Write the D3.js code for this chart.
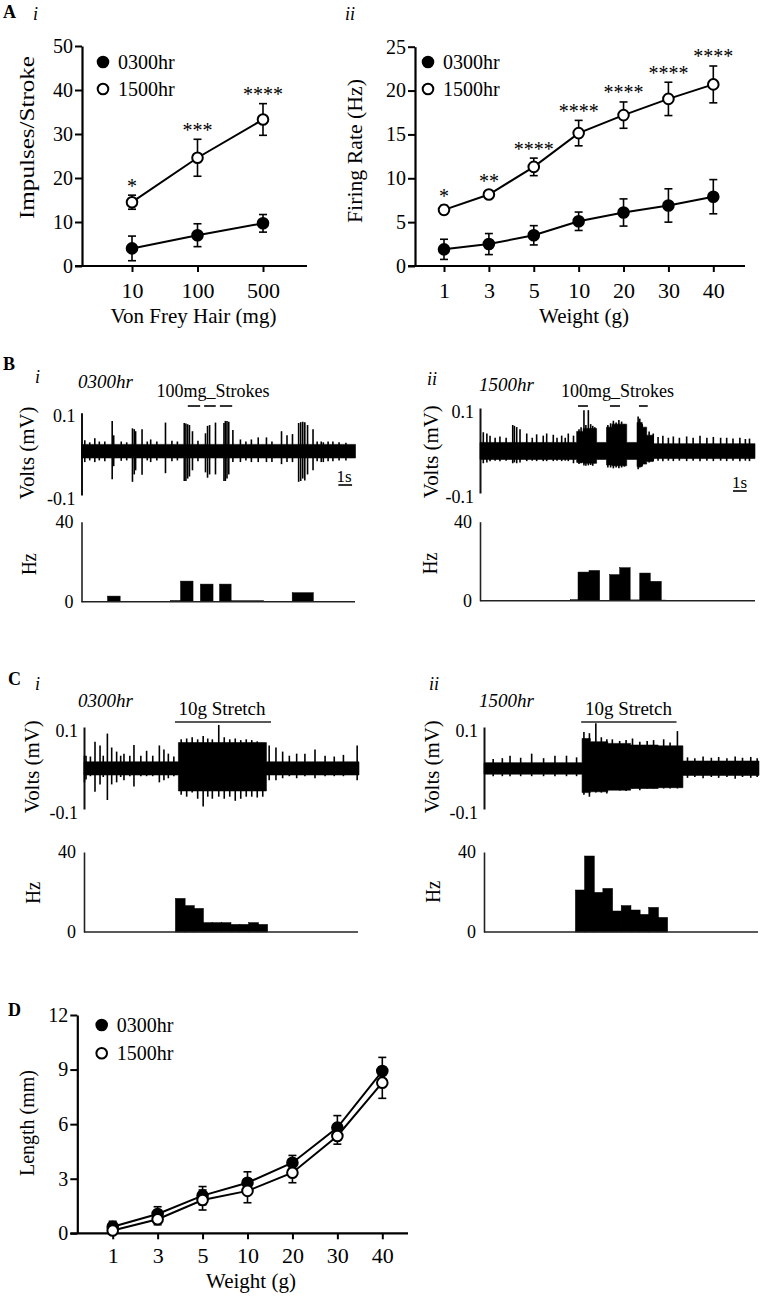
<!DOCTYPE html>
<html><head><meta charset="utf-8">
<script src="https://cdn.jsdelivr.net/npm/d3@7"></script>
<style>
body{margin:0;background:#fff}
svg{display:block}
text{font-family:"Liberation Serif","Times New Roman",serif;fill:#000}
</style>
</head><body>
<svg id="fig" width="760" height="1299"></svg>
<script>
// ---------------- DATA ----------------
// Panel A i : impulses per stroke vs von Frey hair
const vfCategories = ["10", "100", "500"];
const vf0300 = [4.0, 7.0, 9.7];
const vf0300Err = [2.8, 2.6, 2.0];
const vf1500 = [14.5, 24.6, 33.3];
const vf1500Err = [1.6, 4.2, 3.6];
const vfStars = ["*", "***", "****"];
const vfYTicks = [0, 10, 20, 30, 40, 50];

// Panel A ii : firing rate vs weight
const wtCategories = ["1", "3", "5", "10", "20", "30", "40"];
const fr0300 = [1.9, 2.5, 3.5, 5.1, 6.1, 6.9, 7.9];
const fr0300Err = [1.15, 1.2, 1.1, 1.05, 1.55, 1.9, 1.95];
const fr1500 = [6.4, 8.15, 11.3, 15.15, 17.2, 19.05, 20.7];
const fr1500Err = [0.5, 0.4, 1.0, 1.45, 1.5, 1.9, 2.1];
const frStars = ["*", "**", "****", "****", "****", "****", "****"];
const frYTicks = [0, 5, 10, 15, 20, 25];

// Panel D : length vs weight
const len0300 = [0.36, 1.06, 2.07, 2.78, 3.88, 5.81, 8.92];
const len0300Err = [0.3, 0.4, 0.5, 0.6, 0.4, 0.66, 0.75];
const len1500 = [0.15, 0.77, 1.83, 2.33, 3.33, 5.35, 8.28];
const len1500Err = [0.2, 0.3, 0.55, 0.65, 0.55, 0.45, 0.86];
const lenYTicks = [0, 3, 6, 9, 12];

const seriesNames = ["0300hr", "1500hr"];
const voltTicks = [-0.1, 0.1];
const hzTicks = [0, 40];

// Panel B i trace (time s, mV): envelope [t0,t1,upper,lower], spikes [t,up,down]
const bTraceIEnvelope = [[0, 20, 0.023, -0.010]];
const bTraceISpikes = [
  [0.24,0.033,-0.02],[0.6,0.028,-0.016],[0.97,0.038,-0.02],[1.3,0.03,-0.016],[1.7,0.03,-0.018],
  [2.24,0.080,-0.062],[2.35,0.045,-0.03],[2.9,0.03,-0.017],[3.3,0.028,-0.016],
  [3.72,0.062,-0.068],[3.85,0.06,-0.05],[3.95,0.055,-0.04],[4.42,0.060,-0.051],[4.8,0.03,-0.016],[5.05,0.035,-0.02],
  [5.5,0.03,-0.016],[6.13,0.076,-0.047],[6.6,0.032,-0.018],[7.0,0.03,-0.016],
  [7.50,0.075,-0.066],[7.62,0.074,-0.066],[7.75,0.072,-0.06],[7.88,0.07,-0.055],
  [8.1,0.055,-0.04],[8.5,0.032,-0.018],[9.05,0.05,-0.045],[9.2,0.068,-0.058],[9.35,0.07,-0.05],[9.78,0.076,-0.05],
  [10.4,0.075,-0.066],[10.5,0.080,-0.066],[10.62,0.08,-0.06],[10.75,0.078,-0.05],[11.05,0.058,-0.02],
  [11.6,0.035,-0.02],[12.0,0.03,-0.016],[12.4,0.035,-0.02],[12.9,0.04,-0.02],[13.5,0.04,-0.02],[13.9,0.03,-0.02],
  [14.6,0.055,-0.025],[15.0,0.045,-0.02],[15.4,0.048,-0.02],[15.85,0.075,-0.068],[16.0,0.077,-0.066],
  [16.15,0.078,-0.06],[16.3,0.077,-0.065],[16.5,0.07,-0.05],[16.9,0.06,-0.04],[17.2,0.03,-0.018],[17.5,0.03,-0.02],
  [17.65,0.028,-0.02],[18.0,0.03,-0.018],[18.35,0.03,-0.018],[18.8,0.028,-0.016],[19.3,0.027,-0.016]
];
const bStrokesI = [[7.76, 8.66], [8.95, 9.8], [10.1, 11.0]];
const bHistI = [[1.92,2.80,2.8],[6.52,7.25,0.6],[7.25,8.12,10.3],[8.70,9.58,8.8],[10.1,10.9,8.8],[10.9,13.25,0.5],[15.4,16.9,4.5]];

// Panel B ii trace
const bTraceIIEnvelope = [
  [0,7.03,0.019,-0.021],[7.03,7.5,0.045,-0.028],[7.5,8.48,0.052,-0.030],[8.48,9.2,0.019,-0.021],
  [9.2,9.6,0.055,-0.034],[9.6,10.67,0.062,-0.036],[10.67,11.42,0.019,-0.021],[11.42,11.8,0.066,-0.038],
  [11.8,12.12,0.055,-0.032],[12.12,12.6,0.036,-0.026],[12.6,20,0.016,-0.019]
];
const bTraceIISpikes = [
  [0.24,0.043,-0.03],[0.5,0.04,-0.028],[0.73,0.035,-0.025],[1.1,0.03,-0.024],[1.45,0.033,-0.025],[1.9,0.03,-0.024],
  [2.38,0.06,-0.03],[2.5,0.058,-0.028],[2.67,0.055,-0.03],[2.91,0.05,-0.028],[3.4,0.04,-0.025],[3.8,0.03,-0.024],
  [4.12,0.038,-0.025],[4.6,0.035,-0.025],[4.85,0.04,-0.025],[5.33,0.037,-0.025],[5.6,0.03,-0.024],[5.94,0.035,-0.025],
  [6.2,0.03,-0.024],[6.42,0.04,-0.025],[6.8,0.035,-0.03],
  [7.2,0.05,-0.032],[7.35,0.055,-0.03],[7.56,0.095,-0.035],[7.7,0.06,-0.036],[7.88,0.095,-0.035],[8.05,0.062,-0.034],
  [8.2,0.058,-0.036],[8.35,0.055,-0.03],
  [9.3,0.06,-0.04],[9.5,0.064,-0.04],[9.7,0.07,-0.042],[9.9,0.066,-0.04],[10.1,0.072,-0.042],[10.3,0.068,-0.04],[10.5,0.062,-0.038],
  [11.5,0.08,-0.044],[11.62,0.075,-0.04],[11.8,0.062,-0.036],[12.0,0.05,-0.03],[12.3,0.045,-0.028],
  [12.6,0.04,-0.025],[12.95,0.032,-0.024],[13.3,0.035,-0.025],[13.7,0.03,-0.024],
  [14.06,0.033,-0.025],[14.5,0.03,-0.024],[15.03,0.033,-0.025],[15.5,0.03,-0.024],[16,0.035,-0.025],[16.5,0.03,-0.024],
  [16.97,0.032,-0.025],[17.5,0.03,-0.024],[17.94,0.03,-0.025],[18.4,0.028,-0.024],[18.9,0.03,-0.025],[19.3,0.027,-0.024],
  [19.6,0.028,-0.025]
];
const bStrokesII = [[7.13, 7.85], [9.45, 10.18], [11.56, 12.2]];
const bHistII = [[6.62,7.15,0.5],[7.15,7.95,14.5],[7.95,8.68,15.3],[9.45,10.18,13.2],[10.18,10.9,16.7],[10.9,11.64,0.4],[11.64,12.36,14],[12.36,13.16,9.8],[13.16,13.5,0.3]];

// Panel C i trace
const cTraceIEnvelope = [[0,10.3,0.015,-0.017],[10.3,19.9,0.062,-0.056],[19.9,30,0.015,-0.017]];
const cTraceISpikes = [
  [0.05,0.03,-0.035],[0.22,0.03,-0.028],[0.7,0.028,-0.02],[1.2,0.064,-0.058],[1.75,0.055,-0.04],[2.1,0.03,-0.022],
  [2.55,0.084,-0.078],[3.02,0.05,-0.04],[3.56,0.04,-0.035],[4.0,0.03,-0.022],[4.36,0.035,-0.03],[5.0,0.03,-0.02],
  [5.45,0.056,-0.045],[6.2,0.03,-0.02],[6.83,0.042,-0.02],[7.5,0.03,-0.02],[8.22,0.055,-0.035],
  [8.72,0.045,-0.03],[9.2,0.035,-0.025],[9.8,0.028,-0.02],
  [10.6,0.07,-0.065],[11.2,0.072,-0.07],[11.8,0.075,-0.06],[12.4,0.07,-0.075],[13.0,0.078,-0.094],
  [13.5,0.072,-0.07],[14.0,0.07,-0.075],[14.7,0.105,-0.07],[15.3,0.075,-0.075],[15.9,0.07,-0.07],
  [16.5,0.072,-0.08],[17.1,0.068,-0.075],[17.7,0.07,-0.07],[18.3,0.068,-0.07],[18.9,0.065,-0.072],
  [19.5,0.06,-0.07],
  [20.2,0.055,-0.03],[20.94,0.05,-0.03],[21.67,0.04,-0.025],[22.4,0.03,-0.02],[23.2,0.035,-0.025],[24.1,0.035,-0.02],
  [25.2,0.045,-0.025],[26.3,0.03,-0.02],[27.3,0.028,-0.02],[28.3,0.032,-0.02],[29.8,0.055,-0.03]
];
const cStretchI = [9.92, 20.4];
const cHistIStart = 10;
const cHistI = [16.8, 13.2, 11.8, 4.7, 4.7, 4.7, 3.8, 3.8, 4.7, 3.8];

// Panel C ii trace
const cTraceIIEnvelope = [
  [0,10.7,0.013,-0.015],[10.7,11.6,0.072,-0.060],[11.6,13.5,0.064,-0.058],[13.5,16,0.06,-0.054],
  [16,19,0.056,-0.05],[19,21.7,0.054,-0.048],[21.7,30,0.017,-0.018]
];
const cTraceIISpikes = [
  [1.0,0.022,-0.02],[2.0,0.024,-0.02],[2.84,0.03,-0.02],[4.0,0.025,-0.02],[5.2,0.035,-0.02],[6.5,0.024,-0.02],
  [7.74,0.03,-0.02],[9.0,0.03,-0.02],[10.1,0.026,-0.02],
  [10.9,0.088,-0.065],[11.5,0.085,-0.07],[12.2,0.109,-0.06],[12.8,0.075,-0.06],[13.4,0.07,-0.062],[14,0.07,-0.05],
  [14.8,0.066,-0.055],[15.5,0.068,-0.056],[16.2,0.072,-0.05],[17.0,0.064,-0.054],[17.8,0.066,-0.05],
  [18.5,0.068,-0.05],[19.6,0.07,-0.05],[20.3,0.062,-0.05],[21.1,0.09,-0.05],
  [22.2,0.026,-0.024],[23.0,0.024,-0.022],[23.9,0.028,-0.025],[24.8,0.025,-0.022],[25.6,0.027,-0.024],
  [26.5,0.024,-0.022],[27.4,0.028,-0.026],[28.2,0.025,-0.022],[29.1,0.027,-0.024],[29.8,0.024,-0.022]
];
const cStretchII = [10.6, 21.0];
const cHistIIStart = 10;
const cHistII = [21, 38, 19.8, 21.8, 10.5, 13.2, 11, 8.8, 12.3, 7.3];

// ---------------- DRAWING ----------------
const svg = d3.select("#fig");

function txt(x, y, s, size, opts = {}) {
  const t = svg.append("text").attr("x", x).attr("y", y).text(s)
    .style("font-size", size + "px");
  if (opts.anchor) t.attr("text-anchor", opts.anchor);
  if (opts.bold) t.style("font-weight", "bold");
  if (opts.italic) t.style("font-style", "italic");
  return t;
}
function vtxt(bx, cy, s, size, len) {
  const t = svg.append("text")
    .attr("transform", `translate(${bx},${cy}) rotate(-90)`)
    .attr("text-anchor", "middle").style("font-size", size + "px").text(s);
  if (len) t.attr("textLength", len).attr("lengthAdjust", "spacingAndGlyphs");
  return t;
}

function linePanel(o) {
  const g = svg.append("g");
  const x = d3.scalePoint().domain(o.cats).range([o.px0, o.px1]);
  const y = d3.scaleLinear().domain([0, o.yMax]).range([o.yBot, o.yTop]);
  const ya = g.append("g").attr("transform", `translate(${o.axX},0)`)
    .call(d3.axisLeft(y).tickValues(o.yTicks).tickSize(7).tickPadding(2).tickSizeOuter(0));
  ya.select(".domain").attr("stroke-width", 2.2);
  ya.selectAll(".tick line").attr("stroke-width", 2);
  ya.selectAll(".tick text").style("font-size", "20px");
  g.append("line").attr("x1", o.axX - 7).attr("x2", o.axEnd)
    .attr("y1", o.yBot).attr("y2", o.yBot).attr("stroke", "#000").attr("stroke-width", 2.2);
  const xa = g.append("g").attr("transform", `translate(0,${o.yBot})`)
    .call(d3.axisBottom(x).tickSize(6).tickPadding(o.xPad));
  xa.select(".domain").remove();
  xa.selectAll(".tick line").attr("stroke-width", 2);
  xa.selectAll(".tick text").style("font-size", "22px");

  const line = d3.line().x((d, i) => x(o.cats[i])).y(d => y(d));
  const series = [
    { v: o.s1, e: o.e1, filled: true },
    { v: o.s2, e: o.e2, filled: false }
  ];
  series.forEach(s => {
    g.append("path").datum(s.v).attr("d", line).attr("fill", "none")
      .attr("stroke", "#000").attr("stroke-width", 2);
  });
  series.forEach(s => {
    s.v.forEach((v, i) => {
      const cx = x(o.cats[i]);
      const y1 = y(v + s.e[i]), y0 = y(v - s.e[i]);
      g.append("line").attr("x1", cx).attr("x2", cx).attr("y1", y1).attr("y2", y0)
        .attr("stroke", "#000").attr("stroke-width", 1.6);
      [y1, y0].forEach(yy => g.append("line").attr("x1", cx - 4).attr("x2", cx + 4)
        .attr("y1", yy).attr("y2", yy).attr("stroke", "#000").attr("stroke-width", 1.6));
    });
  });
  series.forEach(s => {
    g.selectAll(null).data(s.v).enter().append("circle")
      .attr("cx", (d, i) => x(o.cats[i])).attr("cy", d => y(d)).attr("r", 5.3)
      .attr("fill", s.filled ? "#000" : "#fff").attr("stroke", "#000").attr("stroke-width", 2);
  });
  if (o.stars) {
    o.stars.forEach((st, i) => {
      txt(x(o.cats[i]), y(o.s2[i] + o.e2[i]) - 2.5, st, 20, { anchor: "middle" });
    });
  }
  o.legendY.forEach((ly, i) => {
    g.append("circle").attr("cx", o.legX).attr("cy", ly).attr("r", 5.3)
      .attr("fill", i === 0 ? "#000" : "#fff").attr("stroke", "#000").attr("stroke-width", 2);
    txt(o.legX + 15, ly + 6.5, seriesNames[i], 20);
  });
}

function tracePanel(o) {
  const g = svg.append("g");
  const x = d3.scaleLinear().domain([0, o.tMax]).range([o.x0, o.x1]);
  const y = d3.scaleLinear().domain([-0.1, 0.1]).range([o.yBot, o.yTop]);
  const ya = g.append("g").attr("transform", `translate(${o.x0},0)`)
    .call(d3.axisLeft(y).tickValues(voltTicks).tickSize(0).tickPadding(6)
      .tickFormat(d => (d < 0 ? "-" : "") + Math.abs(d).toFixed(1)));
  ya.select(".domain").attr("stroke", "#111").attr("stroke-width", 2);
  ya.selectAll(".tick text").style("font-size", "18px").attr("dy", "0.5em");
  // envelope as a single stepped area (no seams)
  const pts = o.env.map(d => ({ t: d[0], hi: d[2], lo: d[3] }));
  const last = o.env[o.env.length - 1];
  pts.push({ t: last[1], hi: last[2], lo: last[3] });
  g.append("path").datum(pts)
    .attr("d", d3.area().curve(d3.curveStepAfter).x(d => x(d.t)).y0(d => y(d.lo)).y1(d => y(d.hi)))
    .attr("fill", "#000").attr("stroke", "#000").attr("stroke-width", 0.6);
  g.selectAll(null).data(o.spikes).enter().append("line")
    .attr("x1", d => x(d[0])).attr("x2", d => x(d[0]))
    .attr("y1", d => y(d[1])).attr("y2", d => y(d[2]))
    .attr("stroke", "#000").attr("stroke-width", 1.6);
  return { x, y, g };
}

function histPanel(o) {
  const g = svg.append("g");
  const x = d3.scaleLinear().domain([0, o.tMax]).range([o.x0, o.x1]);
  const y = d3.scaleLinear().domain([0, 40]).range([o.yBot, o.yTop]);
  const ya = g.append("g").attr("transform", `translate(${o.x0},0)`)
    .call(d3.axisLeft(y).tickValues(hzTicks).tickSize(0).tickPadding(8));
  ya.select(".domain").attr("stroke", "#222").attr("stroke-width", 1.6);
  ya.selectAll(".tick text").style("font-size", "18px");
  g.selectAll(null).data(o.bins).enter().append("rect")
    .attr("x", d => x(d[0]) - 0.3).attr("width", d => x(d[1]) - x(d[0]) + 0.6)
    .attr("y", d => y(d[2])).attr("height", d => o.yBot - y(d[2])).attr("fill", "#000")
    .attr("stroke", "#000").attr("stroke-width", 0.5);
  g.append("line").attr("x1", o.x0).attr("x2", o.axEnd).attr("y1", o.yBot).attr("y2", o.yBot)
    .attr("stroke", "#222").attr("stroke-width", 1.6);
}

// ---- Panel A i
txt(3, 18, "A", 18, { bold: true });
txt(33, 20, "i", 18, { italic: true });
linePanel({
  cats: vfCategories, s1: vf0300, e1: vf0300Err, s2: vf1500, e2: vf1500Err, stars: vfStars,
  yMax: 50, yTicks: vfYTicks, axX: 82, axEnd: 307, px0: 132, px1: 263, yTop: 46, yBot: 266,
  xPad: 10, legX: 103, legendY: [62, 89]
});
vtxt(34, 137.5, "Impulses/Stroke", 21, 163);
txt(193.5, 323, "Von Frey Hair (mg)", 21, { anchor: "middle" });

// ---- Panel A ii
txt(345, 20, "ii", 18, { italic: true });
linePanel({
  cats: wtCategories, s1: fr0300, e1: fr0300Err, s2: fr1500, e2: fr1500Err, stars: frStars,
  yMax: 25, yTicks: frYTicks, axX: 415, axEnd: 745, px0: 444, px1: 713.3, yTop: 46.7, yBot: 266,
  xPad: 10, legX: 428, legendY: [62, 89]
});
vtxt(362, 151, "Firing Rate (Hz)", 21, 144);
txt(584, 323, "Weight (g)", 21, { anchor: "middle" });

// ---- Panel B
txt(3, 370, "B", 18, { bold: true });
txt(35, 383, "i", 18, { italic: true });
txt(427, 385, "ii", 18, { italic: true });
txt(78, 388, "0300hr", 19, { italic: true });
txt(479, 391, "1500hr", 19, { italic: true });

const bI = tracePanel({ x0: 81.5, x1: 355.5, tMax: 20, yTop: 412.7, yBot: 495, env: bTraceIEnvelope, spikes: bTraceISpikes });
txt(213, 397, "100mg_Strokes", 18, { anchor: "middle" });
bStrokesI.forEach(s => svg.append("line").attr("x1", bI.x(s[0])).attr("x2", bI.x(s[1]))
  .attr("y1", 406).attr("y2", 406).attr("stroke", "#000").attr("stroke-width", 1.6));
txt(344, 482, "1s", 17, { anchor: "middle" });
svg.append("line").attr("x1", bI.x(18.75)).attr("x2", bI.x(19.75)).attr("y1", 485).attr("y2", 485)
  .attr("stroke", "#000").attr("stroke-width", 1.6);
vtxt(34, 453, "Volts (mV)", 20, 93);
histPanel({ x0: 81.5, x1: 355.5, axEnd: 355, tMax: 20, yTop: 521.7, yBot: 601.7, bins: bHistI });
vtxt(36, 564, "Hz", 20, 22);

const bII = tracePanel({ x0: 480, x1: 755, tMax: 20, yTop: 408, yBot: 493, env: bTraceIIEnvelope, spikes: bTraceIISpikes });
txt(617.5, 397, "100mg_Strokes", 18, { anchor: "middle" });
bStrokesII.forEach(s => svg.append("line").attr("x1", bII.x(s[0])).attr("x2", bII.x(s[1]))
  .attr("y1", 406).attr("y2", 406).attr("stroke", "#000").attr("stroke-width", 1.6));
txt(739.5, 488, "1s", 17, { anchor: "middle" });
svg.append("line").attr("x1", bII.x(18.4)).attr("x2", bII.x(19.4)).attr("y1", 491).attr("y2", 491)
  .attr("stroke", "#000").attr("stroke-width", 1.6);
vtxt(437.5, 451.7, "Volts (mV)", 20, 93);
histPanel({ x0: 480, x1: 755, axEnd: 755, tMax: 20, yTop: 521.7, yBot: 600.7, bins: bHistII });
vtxt(437, 563.3, "Hz", 20, 22);

// ---- Panel C
txt(8, 685, "C", 18, { bold: true });
txt(35, 690, "i", 18, { italic: true });
txt(429, 690, "ii", 18, { italic: true });
txt(78, 707, "0300hr", 19, { italic: true });
txt(479, 707, "1500hr", 19, { italic: true });

const cI = tracePanel({ x0: 84, x1: 359, tMax: 30, yTop: 727, yBot: 809, env: cTraceIEnvelope, spikes: cTraceISpikes });
txt(222, 715, "10g Stretch", 19, { anchor: "middle" });
svg.append("line").attr("x1", cI.x(cStretchI[0])).attr("x2", cI.x(cStretchI[1])).attr("y1", 722).attr("y2", 722)
  .attr("stroke", "#222").attr("stroke-width", 1.6);
vtxt(39, 766.7, "Volts (mV)", 20, 93);
histPanel({ x0: 84, x1: 359, axEnd: 358, tMax: 30, yTop: 852, yBot: 932,
  bins: cHistI.map((v, i) => [cHistIStart + i, cHistIStart + i + 1, v]) });
vtxt(40, 892.7, "Hz", 20, 22);

const cII = tracePanel({ x0: 484, x1: 759, tMax: 30, yTop: 727, yBot: 809, env: cTraceIIEnvelope, spikes: cTraceIISpikes });
txt(628.5, 715, "10g Stretch", 19, { anchor: "middle" });
svg.append("line").attr("x1", cII.x(cStretchII[0])).attr("x2", cII.x(cStretchII[1])).attr("y1", 722).attr("y2", 722)
  .attr("stroke", "#222").attr("stroke-width", 1.6);
vtxt(439, 766.7, "Volts (mV)", 20, 93);
histPanel({ x0: 484, x1: 759, axEnd: 758, tMax: 30, yTop: 852, yBot: 932,
  bins: cHistII.map((v, i) => [cHistIIStart + i, cHistIIStart + i + 1, v]) });
vtxt(440, 891.7, "Hz", 20, 22);

// ---- Panel D
txt(8, 1016, "D", 18, { bold: true });
linePanel({
  cats: wtCategories, s1: len0300, e1: len0300Err, s2: len1500, e2: len1500Err, stars: null,
  yMax: 12, yTicks: lenYTicks, axX: 77.3, axEnd: 408, px0: 112.7, px1: 382.3, yTop: 1015, yBot: 1233.3,
  xPad: 8, legX: 101.7, legendY: [1025, 1053.3]
});
vtxt(34, 1123, "Length (mm)", 20, 106);
txt(251, 1288, "Weight (g)", 21, { anchor: "middle" });
</script>
</body></html>
